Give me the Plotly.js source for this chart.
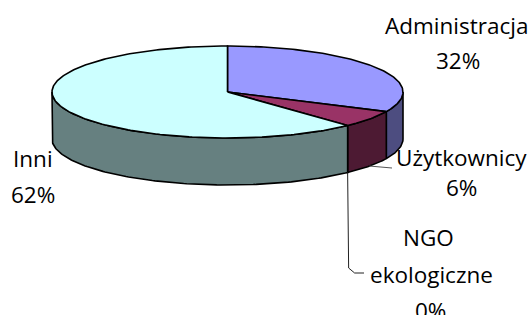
<!DOCTYPE html>
<html>
<head>
<meta charset="utf-8">
<script src="https://cdn.plot.ly/plotly-3.0.1.min.js"></script>
<style>html,body{margin:0;padding:0;background:#fff;}#chart{width:531px;height:315px;}</style>
</head>
<body>
<div id="chart"></div>
<script>
// ---- data ----
var categories = ['Administracja', 'Użytkownicy', 'NGO ekologiczne', 'Inni'];
var percents = [32, 6, 0, 62];

// ---- style ----
var topColors  = ['#9999FF', '#993366', '#FFFFCC', '#CCFFFF'];
var sideColors = ['#4D4D80', '#4D1A33', '#808066', '#668080'];
var cx = 227.5, cy = 92, rx = 175.5, ry = 46, depth = 47;
var labelPos = [
  [[456.5, 25], [458, 60]],
  [[461, 157], [461, 187]],
  [[428, 237], [431, 274], [430, 310]],
  [[33, 158], [33, 194]]
];
var FONT = '"Open Sans", "Noto Sans", sans-serif';

function px(t){ return cx + rx*Math.sin(t*Math.PI/180); }
function py(t){ return cy - ry*Math.cos(t*Math.PI/180); }

var total = percents.reduce(function(a,b){return a+b;},0);
var starts = [], ends = [];
var acc = 0;
percents.forEach(function(v){ starts.push(acc/total*360); acc += v; ends.push(acc/total*360); });

var traces = [];
// side walls (front half only: 90..270 deg)
percents.forEach(function(v,i){
  var a = Math.max(starts[i], 90), b = Math.min(ends[i], 270);
  if (v <= 0 || b <= a) return;
  var xs = [], ys = [], t;
  var n = Math.max(2, Math.ceil(b-a));
  for (var k=0;k<=n;k++){ t = a + (b-a)*k/n; xs.push(px(t)); ys.push(py(t)); }
  for (var k=n;k>=0;k--){ t = a + (b-a)*k/n; xs.push(px(t)); ys.push(py(t)+depth); }
  xs.push(xs[0]); ys.push(ys[0]);
  traces.push({type:'scatter', mode:'lines', x:xs, y:ys, fill:'toself', fillcolor:sideColors[i],
    line:{color:'#000', width:1.6}, hoverinfo:'skip', showlegend:false});
});
// top faces
percents.forEach(function(v,i){
  if (v <= 0) return;
  var a = starts[i], b = ends[i];
  var xs = [cx], ys = [cy];
  var n = Math.max(2, Math.ceil(b-a));
  for (var k=0;k<=n;k++){ var t = a + (b-a)*k/n; xs.push(px(t)); ys.push(py(t)); }
  xs.push(cx); ys.push(cy);
  traces.push({type:'scatter', mode:'lines', x:xs, y:ys, fill:'toself', fillcolor:topColors[i],
    line:{color:'#000', width:1.6}, hoverinfo:'skip', showlegend:false});
});

// labels
var annotations = [];
categories.forEach(function(c,i){
  var lines = c.split(' ').concat([percents[i] + '%']);
  lines.forEach(function(s,j){
    var p = labelPos[i][j];
    annotations.push({x:p[0], y:p[1], xref:'x', yref:'y', text:s, showarrow:false,
      xanchor:'center', yanchor:'middle', font:{family:FONT, size:22.5, color:'#000'}});
  });
});

// leader lines from slice mid-angles (bottom rim)
var shapes = [];
var midU = (starts[1]+ends[1])/2;
var u0x = px(midU), u0y = py(midU)+depth;
shapes.push({type:'path', xref:'x', yref:'y', path:'M'+u0x+','+u0y+' L392,168', line:{color:'#555', width:1}});
var midN = (starts[2]+ends[2])/2;
var n0x = px(midN), n0y = py(midN)+depth;
shapes.push({type:'path', xref:'x', yref:'y',
  path:'M'+n0x+','+n0y+' L'+(n0x+1)+',268 L'+(n0x+7)+',273 L364,273', line:{color:'#222', width:1}});

var layout = {
  width:531, height:315, margin:{l:0,r:0,t:0,b:0},
  paper_bgcolor:'#fff', plot_bgcolor:'#fff', showlegend:false,
  xaxis:{range:[0,531], visible:false, fixedrange:true},
  yaxis:{range:[315,0], visible:false, fixedrange:true},
  annotations:annotations, shapes:shapes
};
Plotly.newPlot('chart', traces, layout, {staticPlot:true, displayModeBar:false});
</script>
</body>
</html>
